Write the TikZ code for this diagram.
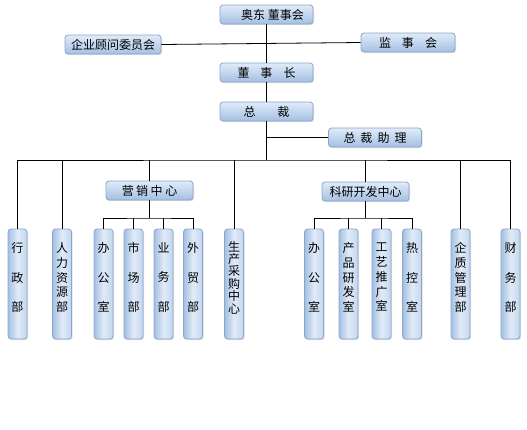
\documentclass[tikz,border=0pt]{standalone}
\usepackage{fontspec}
\setmainfont{Noto Sans CJK SC}
\usetikzlibrary{shadows}
\definecolor{bxborder}{HTML}{8AA6CC}
\definecolor{bxlight}{HTML}{E0EBF8}
\definecolor{bxmid}{HTML}{C2D6EE}
\definecolor{bxdark}{HTML}{A4BFE2}
\newcommand\dn{\rule[-14pt]{0pt}{1pt}}
\tikzset{
  hbox/.style={draw=bxborder, line width=0.8pt, rounded corners=3pt,
    top color=bxlight, bottom color=bxdark, middle color=bxmid,
    minimum width=93pt, minimum height=19pt, inner sep=0pt,
    font=\fontsize{12}{14}\selectfont,
    drop shadow={shadow xshift=1pt, shadow yshift=-1.2pt, opacity=0.25}},
  vbox/.style={draw=bxborder, line width=0.8pt, rounded corners=3pt,
    left color=bxdark, right color=bxmid, middle color=bxlight,
    minimum width=19pt, minimum height=110pt, inner sep=0pt, align=center,
    drop shadow={shadow xshift=1pt, shadow yshift=-1.2pt, opacity=0.25}},
  v3/.style={vbox, font=\fontsize{12}{29.5}\selectfont},
  v5/.style={vbox, font=\fontsize{12}{14.75}\selectfont},
  v6/.style={vbox, font=\fontsize{12}{12.4}\selectfont},
  link/.style={line width=0.8pt, black},
}
\begin{document}
\begin{tikzpicture}[x=1pt,y=-1pt]
\useasboundingbox (0,0) rectangle (527,429);
% top level
\node[hbox] (board) at (266.5,14.5) {\hspace{12pt}奥东 董事会};
\node[hbox, minimum width=96pt] (adv) at (113,44.5) {企业顾问委员会};
\node[hbox, minimum width=94pt] (sup) at (408,42.5) {监\hspace{11pt}事\hspace{11pt}会};
\node[hbox] (chair) at (266.5,72.5) {董\hspace{11pt}事\hspace{11pt}长};
\node[hbox] (ceo) at (266.5,111.5) {总\hspace{22pt}裁};
\node[hbox] (asst) at (375,137.5) {总\hspace{5pt}裁\hspace{5pt}助\hspace{5pt}理};
\node[hbox, minimum width=87pt] (mkt) at (149.5,190.5) {营\hspace{2.5pt}销\hspace{2.5pt}中\hspace{2.5pt}心};
\node[hbox, minimum width=87pt] (rnd) at (365.5,191.5) {科研开发中心};
% vertical boxes
\node[v3] (admin) at (17.5,284) {行\\政\\部\dn};
\node[v5] (hr) at (62,284) {人\\力\\资\\源\\部\dn};
\node[v3] (moff) at (103.5,284) {办\\公\\室\dn};
\node[v3] (market) at (133.5,284) {市\\场\\部\dn};
\node[v3] (biz) at (163.5,284) {业\\务\\部\dn};
\node[v3] (trade) at (193,284) {外\\贸\\部\dn};
\node[v6] (prod) at (234,284) {生\\产\\采\\购\\中\\心\dn};
\node[v3] (roff) at (314,284) {办\\公\\室\dn};
\node[v5] (pdev) at (348.5,284) {产\\品\\研\\发\\室\dn};
\node[v5] (proc) at (381.5,284) {工\\艺\\推\\广\\室\dn};
\node[v3] (heat) at (412,284) {热\\控\\室\dn};
\node[v5] (qual) at (460.5,284) {企\\质\\管\\理\\部\dn};
\node[v3] (fin) at (510.5,284) {财\\务\\部\dn};
% junction coordinates
\coordinate (j2) at (266.5,137.5);
\coordinate (j3) at (266.5,160);
\coordinate (mj) at (149.5,218);
\coordinate (rj) at (365.5,218);
% connectors
\draw[link] (board.south) -- (chair.north);
\draw[link] (adv.east) -- (sup.west);
\draw[link] (chair.south) -- (ceo.north);
\draw[link] (ceo.south) -- (j3);
\draw[link] (j2) -- (asst.west);
\draw[link] (admin.north) |- (j3) -| (fin.north);
\draw[link] (hr.north) -- (hr.north |- j3);
\draw[link] (mkt.north) -- (mkt.north |- j3);
\draw[link] (prod.north) -- (prod.north |- j3);
\draw[link] (rnd.north) -- (rnd.north |- j3);
\draw[link] (qual.north) -- (qual.north |- j3);
\draw[link] (mkt.south) -- (mj);
\draw[link] (moff.north) |- (mj) -| (trade.north);
\draw[link] (market.north) -- (market.north |- mj);
\draw[link] (biz.north) -- (biz.north |- mj);
\draw[link] (rnd.south) -- (rj);
\draw[link] (roff.north) |- (rj) -| (heat.north);
\draw[link] (pdev.north) -- (pdev.north |- rj);
\draw[link] (proc.north) -- (proc.north |- rj);
\end{tikzpicture}
\end{document}
